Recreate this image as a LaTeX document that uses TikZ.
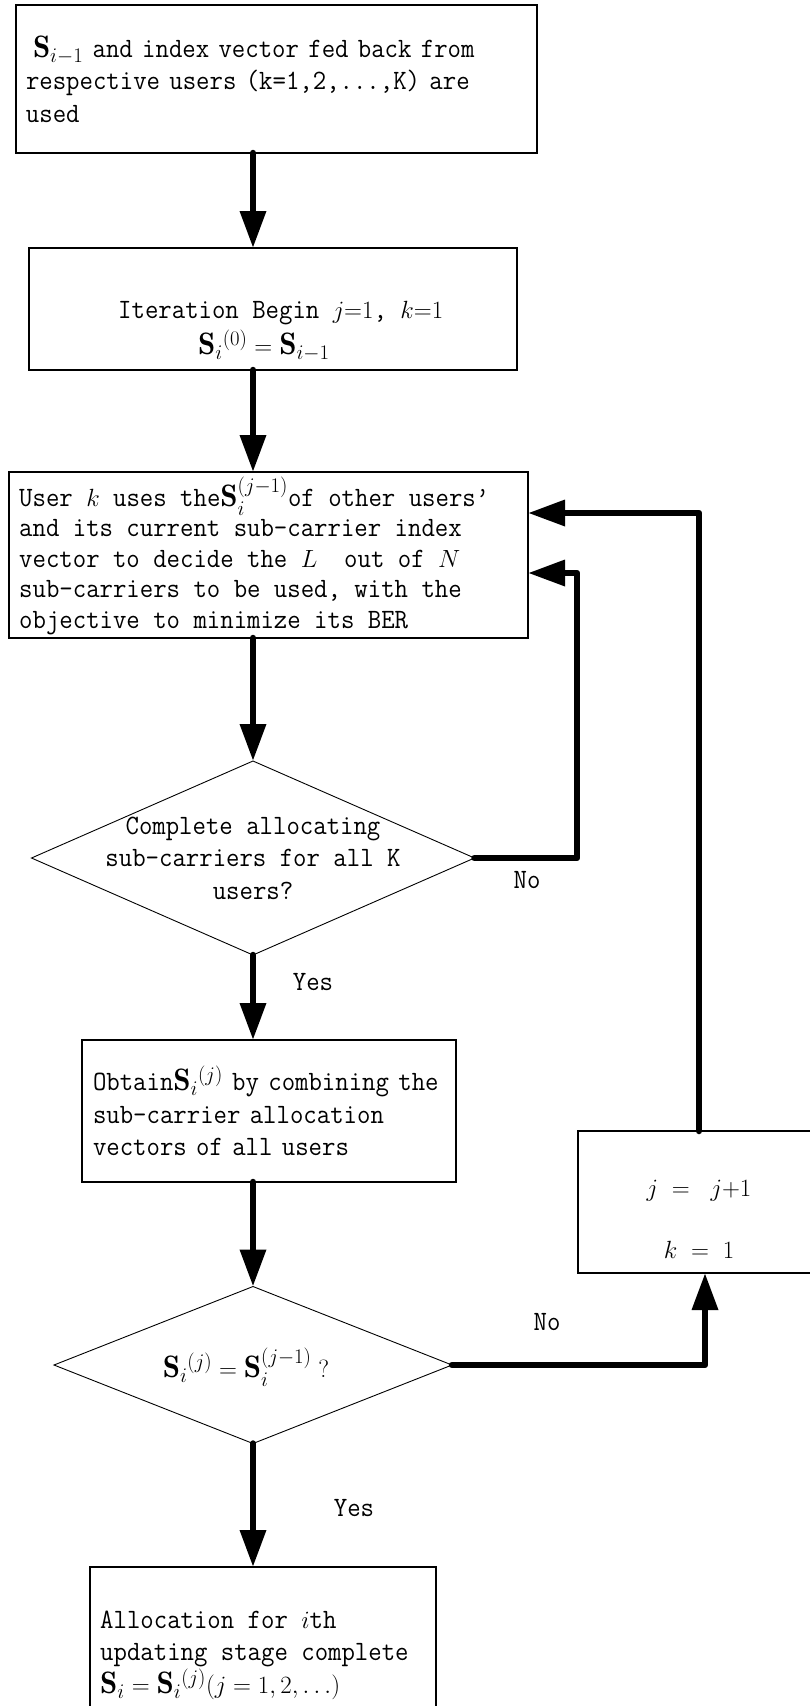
\documentclass[tikz,border=0pt]{standalone}
\usepackage{fontspec}
\usepackage{amsmath}
\newfontfamily\mono[FakeStretch=0.93,Scale=0.9032]{Latin Modern Mono}
\usetikzlibrary{arrows.meta,shapes.geometric}
\tikzset{
  box/.style={draw, line width=1.5pt, inner ysep=0pt, align=left, outer sep=0pt},
  dia/.style={draw, diamond, line width=0.9pt, inner sep=0pt, outer sep=0pt},
  txt/.style={inner sep=0pt, align=left},
  lbl/.style={inner sep=0pt},
  arr/.style={line width=6.5pt, line cap=round, line join=round, -{Triangle[length=37pt,width=25pt]}},
}
\begin{document}
\begin{tikzpicture}[x=1pt,y=-1pt,font=\fontsize{31}{32.5}\selectfont\mono]
\fill[white] (0,0) rectangle (810,1706);
\useasboundingbox (0,0) rectangle (810,1706);
\coordinate (col) at (253,0);

% boxes and decisions
\node[box, minimum height=148pt, text width=501pt, inner xsep=10pt] (b1) at (276.5,79)
  {\mbox{\hspace*{7pt}$\mathbf{S}_{i-1}$ and index vector fed back from}\\
   \mbox{respective users (k=1,2,...,K) are}\\
   used};

\node[box, minimum width=488pt, minimum height=122pt] (b2) at (273,309) {};
\node[txt, anchor=west] (t2) at (118,331)
  {Iteration Begin $j{=}1$, $k{=}1$\\[4pt]\hspace*{80pt}$\mathbf{S}_i{}^{(0)}=\mathbf{S}_{i-1}$};

\node[box, minimum width=519pt, minimum height=166pt] (b3) at (268.5,555) {};
\node[txt, anchor=west] (t3) at (19,556)
  {User $k$ uses the$\mathbf{S}_i^{(j-1)}$of other users’\\[-2pt]
   and its current sub-carrier index\\[-2pt]
   vector to decide the $L$\ \ out of $N$\\[-2pt]
   sub-carriers to be used, with the\\[-2pt]
   objective to minimize its BER};

\node[dia, minimum width=443pt, minimum height=194pt] (d1) at (253,858) {};
\node[txt, align=center] (t4) at (253,858)
  {Complete allocating\\sub-carriers for all K\\users?};

\node[box, minimum height=142pt, text width=352pt, inner xsep=11pt] (b4) at (269,1111)
  {\mbox{Obtain$\mathbf{S}_i{}^{(j)}$ by combining the}\\
   \mbox{sub-carrier allocation}\\
   \mbox{vectors of all users}};

\node[dia, minimum width=398pt, minimum height=157pt] (d2) at (253,1365) {};
\node[lbl] (t5) at (246,1367) {$\mathbf{S}_i{}^{(j)}=\mathbf{S}_i^{(j-1)}\;?$};

\node[box, anchor=north, minimum width=346pt, minimum height=160pt] (b5) at (263,1567) {};
\node[txt, anchor=west] (t6) at (100,1655)
  {Allocation for $i$th\\ updating stage complete\\ $\mathbf{S}_i=\mathbf{S}_i{}^{(j)}(j=1,2,\ldots)$};

\node[box, minimum width=242pt, minimum height=142pt] (b6) at (699,1202) {};
\node[lbl, align=center, font=\fontsize{25}{25}\selectfont] (t7) at (699,1219)
  {$j\;=\;\;j{+}1$\\[37pt]$k\;=\;1$};

% labels
\node[lbl] (yes1) at (313,982) {Yes};
\node[lbl] (no1) at (527,880) {No};
\node[lbl] (no2) at (547,1322) {No};
\node[lbl] (yes2) at (354,1508) {Yes};

% main flow
\draw[arr] (b1.south -| col) -- (b2.north -| col);
\draw[arr] (b2.south -| col) -- (b3.north -| col);
\draw[arr] (b3.south -| col) -- (d1.north);
\draw[arr] (d1.south) -- (b4.north -| col);
\draw[arr] (b4.south -| col) -- (d2.north);
\draw[arr] (d2.south) -- (b5.north -| col);

% feedback loops
\coordinate (c1) at (577,573);
\coordinate (c2) at (699,513);
\coordinate (c3) at (705,1365);
\draw[arr] (d1.east) -| (c1) -- (b3.east |- c1);
\draw[arr] (b6.north -| c2) -- (c2) -- (b3.east |- c2);
\draw[arr] (d2.east) -| (b6.south -| c3);
\end{tikzpicture}
\end{document}
